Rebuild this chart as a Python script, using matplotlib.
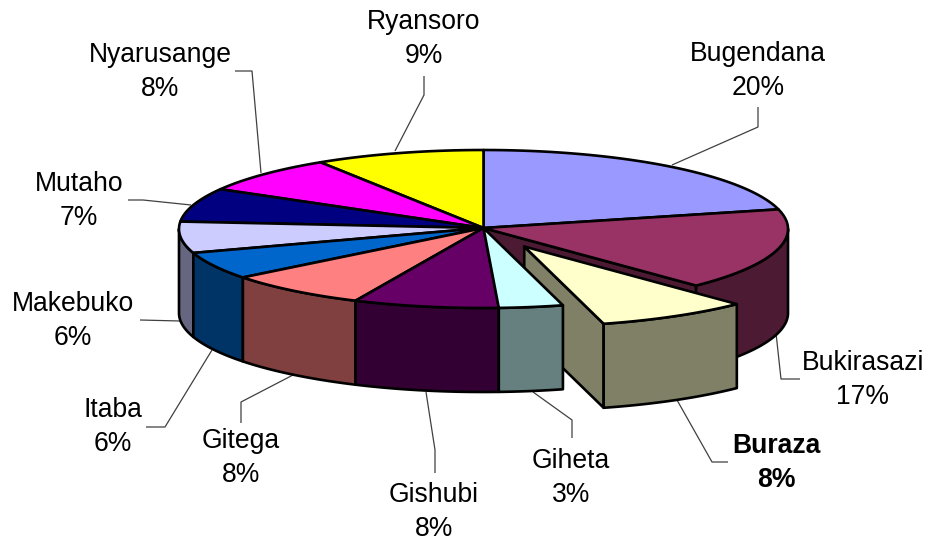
import numpy as np
import matplotlib
matplotlib.use("Agg")
import matplotlib.pyplot as plt
from matplotlib.patches import Polygon

plt.rcParams['font.family'] = ['Liberation Sans', 'DejaVu Sans']

categories = ["Bugendana", "Bukirasazi", "Buraza", "Giheta", "Gishubi", "Gitega",
              "Itaba", "Makebuko", "Mutaho", "Nyarusange", "Ryansoro"]
values = [21.0, 16.7, 8.1, 3.4, 7.7, 7.6, 5.6, 6.4, 6.9, 7.6, 9.0]
percent_labels = ["20%", "17%", "8%", "3%", "8%", "8%", "6%", "6%", "7%", "8%", "9%"]
top_colors = ["#9999FF", "#993366", "#FFFFCC", "#CCFFFF", "#660066", "#FF8080",
              "#0066CC", "#CCCCFF", "#000080", "#FF00FF", "#FFFF00"]
side_colors = ["#666699", "#4D1A33", "#808066", "#668080", "#330033", "#804040",
               "#003366", "#666680", "#000040", "#800080", "#808000"]

# layout (pixels)
CX, CY, RX, RY, DEPTH = 483.5, 229, 304.5, 79, 84
EXPLODE = {"Buraza": 0.27}
LABEL_POS = {"Bugendana": (758, 71), "Bukirasazi": (863, 380), "Buraza": (776, 463),
             "Giheta": (571, 478), "Gishubi": (434, 512), "Gitega": (241, 458),
             "Itaba": (113, 427), "Makebuko": (73, 321), "Mutaho": (79, 201),
             "Nyarusange": (160, 72), "Ryansoro": (424, 39)}
LEADERS = {"Bugendana": [(672, 165), (758, 127), (758, 107)],
           "Bukirasazi": [(776, 333), (781, 379), (800, 379)],
           "Buraza": [(677, 400), (712, 462), (728, 462)],
           "Giheta": [(533, 392), (572, 420), (572, 438)],
           "Gishubi": [(426, 392), (435, 450), (435, 473)],
           "Gitega": [(293, 375), (241, 402), (241, 423)],
           "Itaba": [(212, 350), (165, 427), (146, 427)],
           "Makebuko": [(180, 321), (140, 320)],
           "Mutaho": [(191, 205), (143, 200), (128, 200)],
           "Nyarusange": [(261, 173), (252, 71), (235, 71)],
           "Ryansoro": [(395, 151), (424, 95), (424, 76)]}

fig = plt.figure(figsize=(9.31, 5.40), dpi=100)
ax = fig.add_axes([0, 0, 1, 1])
ax.set_xlim(0, 931)
ax.set_ylim(540, 0)
ax.axis("off")

cum = np.cumsum([0] + values) / sum(values) * 2 * np.pi
LW = 1.9


def pt(a, ox=0, oy=0, dz=0):
    return np.column_stack([CX + ox + RX * np.sin(a), CY + oy - RY * np.cos(a) + dz])


def face(points, color, z):
    ax.add_patch(Polygon(points, closed=True, facecolor=color, edgecolor="black",
                         linewidth=LW, joinstyle="round", zorder=z))


def draw_slice(i, z):
    name = categories[i]
    a0, a1 = cum[i], cum[i + 1]
    k = EXPLODE.get(name, 0)
    mid = (a0 + a1) / 2
    ox, oy = k * RX * np.sin(mid), -k * RY * np.cos(mid)
    apex = np.array([[CX + ox, CY + oy - 1]])
    # end radial face, visible when the wedge is cut open by the exploded neighbour
    nxt = categories[(i + 1) % len(categories)]
    if (k or nxt in EXPLODE) and np.sin(a1) > 0:
        e = pt(np.array([a1]), ox, oy)
        face(np.vstack([apex, e, e + [0, DEPTH], apex + [0, DEPTH]]), side_colors[i], z)
    # outer wall
    lo, hi = max(a0, np.pi / 2), min(a1, 3 * np.pi / 2)
    if hi > lo:
        t = np.linspace(lo, hi, 80)
        face(np.vstack([pt(t, ox, oy), pt(t[::-1], ox, oy, DEPTH)]), side_colors[i], z)
    # top
    t = np.linspace(a0, a1, 120)
    face(np.vstack([apex, pt(t, ox, oy)]), top_colors[i], z + 0.1)


for name, path in LEADERS.items():
    xs, ys = zip(*path)
    ax.plot(xs, ys, color="#404040", lw=0.9, zorder=1, solid_capstyle="butt")

# back to front: the exploded slice sits behind Giheta's wall, over Bukirasazi
order = [0, 1, 2] + list(range(10, 2, -1))
for z, i in enumerate(order):
    draw_slice(i, 2 + z)

for i, name in enumerate(categories):
    x, y = LABEL_POS[name]
    bold = name == "Buraza"
    ax.text(x, y, f"{name}\n{percent_labels[i]}", ha="center", va="center",
            fontsize=19.1, fontweight="bold" if bold else "normal",
            color="black", linespacing=1.37, zorder=30)

fig.savefig("out.png", dpi=100, facecolor="white")
